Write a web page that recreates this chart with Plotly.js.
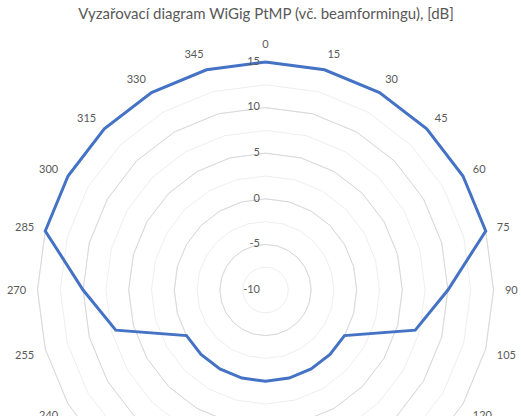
<!DOCTYPE html>
<html>
<head>
<meta charset="utf-8">
<script src="https://cdn.plot.ly/plotly-3.0.1.min.js"></script>
<style>html,body{margin:0;padding:0;overflow:hidden;background:#fff}</style>
</head>
<body>
<div id="chart"></div>
<script>
// Categories (azimuth in degrees) and gain values [dB]
const angles = ['0','15','30','45','60','75','90','105','120','135','150','165','180','195','210','225','240','255','270','285','300','315','330','345'];
const gain = [15,15,15,15,15,15,10,7,0,0,0,0,0,0,0,0,0,7,10,15,15,15,15,15];
const radialTicks = [-10,-5,0,5,10,15];
const titleText = 'Vyzařovací diagram WiGig PtMP (vč. beamformingu), [dB]';

const W = 521, H = 560;
const rMin = -10, rMax = 15, rEdge = 15.3;
const cx = 265.5, cy = 290, R15 = 228;
const R = R15 * (rEdge - rMin) / (rMax - rMin);
const FONT = 'Lato, "Open Sans", sans-serif';
const TXT = '#595959';
const NONE = 'rgba(0,0,0,0)';

const thetaClosed = angles.concat([angles[0]]);
const rClosed = gain.concat([gain[0]]);

const traces = [
  { type:'scatterpolar', subplot:'polar', theta: thetaClosed, r: rClosed, mode:'lines',
    line:{color:NONE, width:0}, hoverinfo:'skip', showlegend:false },
  { type:'scatterpolar', subplot:'polar2', theta: thetaClosed, r: rClosed, mode:'lines', cliponaxis:false,
    line:{color:'#4472C4', width:3}, showlegend:false },
  { type:'scatterpolar', subplot:'polar3', theta: radialTicks.map(() => angles[0]), r: radialTicks,
    mode:'text', cliponaxis:false, text: radialTicks.map(v => String(v) + '\u2002'), textposition:'middle left',
    textfont:{family:FONT, size:11, color:TXT},
    hoverinfo:'skip', showlegend:false }
];

const dom = {
  x:[(cx-R)/W, (cx+R)/W],
  y:[1-(cy+R)/H, 1-(cy-R)/H]
};

const angBase = {
  type:'category', categoryarray: angles, rotation:90, direction:'clockwise'
};

const layout = {
  width: W, height: H,
  margin:{l:0,r:0,t:0,b:0},
  paper_bgcolor:'#ffffff',
  showlegend:false,
  font:{family:FONT, color:TXT, size:11},
  title:{text:titleText, font:{family:FONT, size:15, color:TXT},
         x:266/W, xanchor:'center', xref:'paper', y:1-14/H, yanchor:'middle', yref:'container'},
  polar:{
    domain: dom, bgcolor:'#ffffff', gridshape:'linear',
    radialaxis:{range:[rMin, rEdge], tickmode:'linear', tick0:-10, dtick:2.5, showticklabels:false,
                gridcolor:'#eeeeee', gridwidth:1, showline:false, ticks:'', angle:90},
    angularaxis: Object.assign({}, angBase, {showticklabels:false, showgrid:false, showline:false, ticks:''})
  },
  polar2:{
    domain: dom, bgcolor:NONE, gridshape:'linear',
    radialaxis:{range:[rMin, rEdge], tickmode:'array', tickvals: radialTicks, showticklabels:false,
                gridcolor:'#d9d9d9', gridwidth:1, showline:false, ticks:'', angle:90,
                layer:'below traces'},
    angularaxis: Object.assign({}, angBase, {showgrid:false, showline:false,
                layer:'below traces',
                ticks:'outside', ticklen:6, tickcolor:NONE,
                tickfont:{family:FONT, size:11, color:TXT}})
  },
  polar3:{
    domain: dom, bgcolor:NONE, gridshape:'circular',
    radialaxis:{range:[rMin, rEdge], showticklabels:false, showgrid:false, showline:false,
                linecolor:NONE, ticks:'', angle:90},
    angularaxis: Object.assign({}, angBase, {showticklabels:false, showgrid:false, showline:false,
                linecolor:NONE, ticks:''})
  }
};

Plotly.newPlot('chart', traces, layout, {displayModeBar:false, staticPlot:true});
</script>
</body>
</html>
